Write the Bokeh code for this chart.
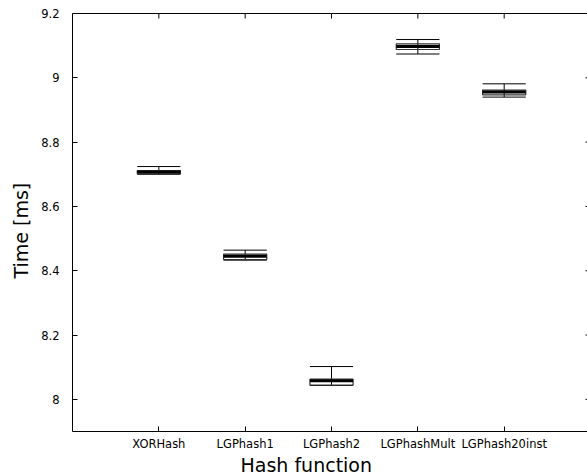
import math
from bokeh.plotting import figure
from bokeh.models import LinearAxis, FixedTicker, Range1d, ColumnDataSource, Title
from bokeh.embed import file_html
from bokeh.resources import INLINE

categories = ["XORHash", "LGPhash1", "LGPhash2", "LGPhashMult", "LGPhash20inst"]
whisker_low = [8.700, 8.433, 8.043, 9.074, 8.940]
q1 = [8.7014, 8.4348, 8.0442, 9.088, 8.9471]
median = [8.7067, 8.4454, 8.0576, 9.0974, 8.9555]
q3 = [8.7117, 8.4516, 8.0628, 9.1058, 8.9617]
whisker_high = [8.724, 8.464, 8.102, 9.119, 8.9813]
y_ticks = [8.0, 8.2, 8.4, 8.6, 8.8, 9.0, 9.2]
y_tick_labels = ["8", "8.2", "8.4", "8.6", "8.8", "9", "9.2"]
x_title = "Hash function"
y_title = "Time [ms]"

BOX_W = 0.5
FONT = "DejaVu Sans"
X_START, X_END = 0, 5.965
Y_START, Y_END = 7.9, 9.2

xs = [i + 1 for i in range(len(categories))]
src = ColumnDataSource(dict(
    x=xs,
    left=[x - BOX_W / 2 for x in xs],
    right=[x + BOX_W / 2 for x in xs],
    wl=whisker_low, q1=q1, med=median, q3=q3, wh=whisker_high,
))

p = figure(width=587, height=474, output_backend="svg", toolbar_location=None,
           x_range=Range1d(X_START, X_END), y_range=Range1d(Y_START, Y_END),
           x_axis_location=None, y_axis_location=None,
           min_border_left=72, min_border_right=0, min_border_top=13, min_border_bottom=43)
p.grid.visible = False
p.outline_line_color = None
p.background_fill_color = "white"
p.border_fill_color = "white"

# whiskers
p.segment(x0="x", y0="wl", x1="x", y1="wh", source=src, line_color="black", line_width=1)
p.segment(x0="left", y0="wh", x1="right", y1="wh", source=src, line_color="black", line_width=1)
p.segment(x0="left", y0="wl", x1="right", y1="wl", source=src, line_color="black", line_width=1)
# boxes
p.quad(left="left", right="right", bottom="q1", top="q3", source=src,
       fill_color=None, line_color="#333333", line_width=1.2)
# median
p.segment(x0="left", y0="med", x1="right", y1="med", source=src, line_color="black", line_width=3)

# mirrored ticks on top and right edges (clipped to the frame -> inward ticks)
p.scatter(x=xs, y=[Y_END] * len(xs), marker="dash", angle=math.pi / 2, size=10,
          line_color="black", line_width=1)
p.scatter(x=[X_END] * len(y_ticks), y=y_ticks, marker="dash", size=4,
          line_color="black", line_width=1)


def style(ax):
    ax.major_tick_in = 5
    ax.major_tick_out = 0
    ax.minor_tick_line_color = None
    ax.axis_line_color = "black"
    ax.major_tick_line_color = "black"
    ax.major_label_text_font = FONT
    ax.major_label_text_color = "black"
    ax.major_label_text_font_size = "11.5px"


left = LinearAxis(ticker=FixedTicker(ticks=y_ticks))
style(left)
left.major_label_overrides = {t: l for t, l in zip(y_ticks, y_tick_labels)}
left.major_label_standoff = 13
p.add_layout(left, "left")

bottom = LinearAxis(ticker=FixedTicker(ticks=xs))
style(bottom)
bottom.major_label_overrides = {x: c for x, c in zip(xs, categories)}
bottom.major_label_standoff = 5
p.add_layout(bottom, "below")

top = LinearAxis(ticker=FixedTicker(ticks=[]))
top.axis_line_color = "black"
top.major_tick_line_color = None
top.minor_tick_line_color = None
top.major_label_text_font_size = "11px"
p.add_layout(top, "above")

xt = Title(text=x_title, align="left", offset=168, standoff=-4,
           text_font=FONT, text_font_size="19px", text_font_style="normal",
           text_color="black")
p.add_layout(xt, "below")

yt = Title(text=y_title, align="left", offset=153, standoff=14,
           text_font=FONT, text_font_size="19px", text_font_style="normal",
           text_color="black")
p.add_layout(yt, "left")

open("out.html", "w").write(file_html(p, INLINE))
